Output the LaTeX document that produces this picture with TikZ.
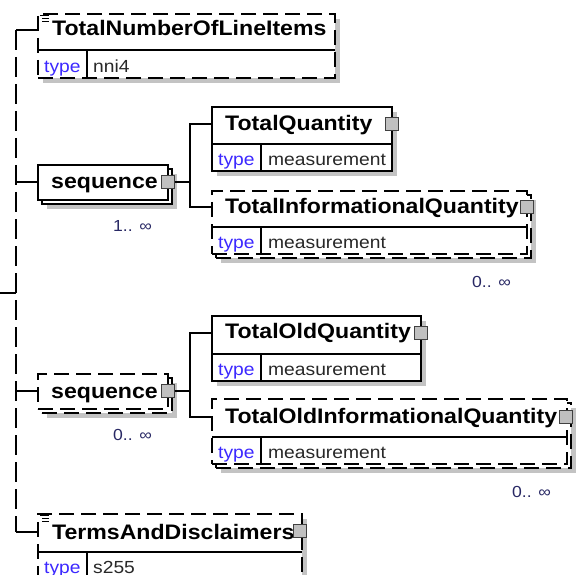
\documentclass[tikz,border=0pt]{standalone}
\usepackage{fontspec}
\newfontfamily\xsfont[FakeStretch=1.1]{Liberation Sans}
\definecolor{shadowgray}{RGB}{195,195,195}
\definecolor{sqgray}{RGB}{192,192,192}
\definecolor{typeblue}{RGB}{60,40,255}
\definecolor{valgray}{RGB}{40,40,40}
\definecolor{cardblue}{RGB}{40,40,100}
\begin{document}
\begin{tikzpicture}[x=1pt,y=-1pt,
 ln/.style={line width=1.2pt},
 elbox/.style={draw=black, line width=1.2pt, fill=white, inner sep=0pt, outer sep=0pt, anchor=north west},
 opt/.style={dash pattern=on 15pt off 7pt},
 spinedash/.style={dash pattern=on 20pt off 7pt},
 shade/.style={fill=shadowgray, draw=none},
 sqr/.style={draw=black!75, line width=1pt, fill=sqgray, minimum width=13pt, minimum height=13pt, inner sep=0pt, outer sep=0pt},
 hdr/.style={font=\xsfont\bfseries\fontsize{21}{21}\selectfont, anchor=base west, inner sep=0pt},
 tlabel/.style={font=\xsfont\fontsize{17.5}{17.5}\selectfont, anchor=base west, inner sep=0pt, text=typeblue},
 vlabel/.style={font=\xsfont\fontsize{17.5}{17.5}\selectfont, anchor=base west, inner sep=0pt, text=valgray},
 card/.style={font=\xsfont\fontsize{16}{16}\selectfont, anchor=base west, inner sep=0pt, text=cardblue},
 icon/.style={line width=0.8pt}
]
\useasboundingbox (0,0) rectangle (576,575);
\clip (0,0) rectangle (576,575);

% ---------- TotalNumberOfLineItems
\fill[shade] (43,19) rectangle (340,83);
\node[elbox,opt,minimum width=297pt,minimum height=64pt] (tnl) at (38,14) {};
\draw[ln] (38,50) -- (335,50);
\draw[ln] (87,50) -- (87,78);
\draw[icon] (40,15.5) -- (49,15.5) (42,18.5) -- (49,18.5) (42,21.5) -- (49,21.5);
\node[hdr] (tnlname) at (52,36) {TotalNumberOfLineItems};
\node[tlabel] (tnltype) at (44,73) {type};
\node[vlabel] (tnlval) at (93,73) {nni4};
\coordinate (tnlin) at (38,30);

% ---------- sequence 1
\fill[shade] (47,174) rectangle (177,209);
\node[elbox,minimum width=130pt,minimum height=35pt] (seq1b) at (42,169) {};
\node[elbox,minimum width=130pt,minimum height=35pt] (seq1) at (38,165) {};
\node[hdr] (seq1name) at (51,189) {sequence};
\node[sqr] (seq1sq) at (168,182) {};
\node[card] (seq1card) at (113,231) {1.. ∞};

% ---------- TotalQuantity
\fill[shade] (217,112) rectangle (397,176);
\node[elbox,minimum width=180pt,minimum height=64pt] (tq) at (212,107) {};
\draw[ln] (212,144) -- (392,144);
\draw[ln] (261,144) -- (261,171);
\node[hdr] (tqname) at (225,131) {TotalQuantity};
\node[tlabel] (tqtype) at (218,166) {type};
\node[vlabel] (tqval) at (268,166) {measurement};
\node[sqr] (tqsq) at (392,124) {};

% ---------- TotalInformationalQuantity
\fill[shade] (221,200) rectangle (536,263);
\node[elbox,opt,minimum width=315pt,minimum height=63pt] (tiqb) at (216,195) {};
\node[elbox,opt,minimum width=315pt,minimum height=63pt] (tiq) at (212,191) {};
\draw[ln] (212,227) -- (527,227);
\draw[ln] (261,227) -- (261,254);
\node[hdr] (tiqname) at (225,213) {TotalInformationalQuantity};
\node[tlabel] (tiqtype) at (218,248) {type};
\node[vlabel] (tiqval) at (268,248) {measurement};
\node[sqr] (tiqsq) at (527,207) {};
\node[card] (tiqcard) at (472,287) {0.. ∞};

% ---------- sequence 2
\fill[shade] (47,383) rectangle (177,418);
\node[elbox,opt,minimum width=130pt,minimum height=35pt] (seq2b) at (42,378) {};
\node[elbox,opt,minimum width=130pt,minimum height=35pt] (seq2) at (38,374) {};
\node[hdr] (seq2name) at (51,398) {sequence};
\node[sqr] (seq2sq) at (168,391) {};
\node[card] (seq2card) at (113,440) {0.. ∞};

% ---------- TotalOldQuantity
\fill[shade] (217,321) rectangle (426,386);
\node[elbox,minimum width=209pt,minimum height=65pt] (toq) at (212,316) {};
\draw[ln] (212,354) -- (421,354);
\draw[ln] (261,354) -- (261,381);
\node[hdr] (toqname) at (225,338) {TotalOldQuantity};
\node[tlabel] (toqtype) at (218,375) {type};
\node[vlabel] (toqval) at (268,375) {measurement};
\node[sqr] (toqsq) at (421,333) {};

% ---------- TotalOldInformationalQuantity
\fill[shade] (221,408) rectangle (576,473);
\node[elbox,opt,minimum width=355pt,minimum height=65pt] (toiqb) at (216,403) {};
\node[elbox,opt,minimum width=355pt,minimum height=65pt] (toiq) at (212,399) {};
\draw[ln] (212,437) -- (567,437);
\draw[ln] (261,437) -- (261,464);
\node[hdr] (toiqname) at (225,423) {TotalOldInformationalQuantity};
\node[tlabel] (toiqtype) at (218,458) {type};
\node[vlabel] (toiqval) at (268,458) {measurement};
\node[sqr] (toiqsq) at (566,417) {};
\node[card] (toiqcard) at (512,497) {0.. ∞};

% ---------- TermsAndDisclaimers
\fill[shade] (43,519) rectangle (307,600);
\node[elbox,opt,minimum width=264pt,minimum height=80pt] (tad) at (38,514) {};
\draw[ln] (38,552) -- (302,552);
\draw[ln] (87,552) -- (87,590);
\draw[icon] (40,515.5) -- (49,515.5) (42,518.5) -- (49,518.5) (42,521.5) -- (49,521.5);
\node[hdr] (tadname) at (52,539) {TermsAndDisclaimers};
\node[tlabel] (tadtype) at (44,573) {type};
\node[vlabel] (tadval) at (93,573) {s255};
\node[sqr] (tadsq) at (300,531) {};
\coordinate (tadin) at (38,532);

% ---------- connectors
\coordinate (root) at (0,293);
\coordinate (spine) at (16,293);
\draw[ln] (root) -- (spine);
\draw[ln,spinedash] (spine |- tnlin) -- (spine |- tadin);
\draw[ln] (spine |- tnlin) -- (tnlin);
\draw[ln] (spine |- seq1sq) -- (seq1.west |- seq1sq);
\draw[ln] (spine |- seq2sq) -- (seq2.west |- seq2sq);
\draw[ln] (spine |- tadin) -- (tadin);

\coordinate (j1) at (190,182);
\draw[ln] (seq1sq.east) -- (j1);
\draw[ln] (j1) |- (tq.west |- tqsq);
\draw[ln] (j1) |- (tiq.west |- tiqsq);

\coordinate (j2) at (190,391);
\draw[ln] (seq2sq.east) -- (j2);
\draw[ln] (j2) |- (toq.west |- toqsq);
\draw[ln] (j2) |- (toiq.west |- toiqsq);
\end{tikzpicture}
\end{document}
